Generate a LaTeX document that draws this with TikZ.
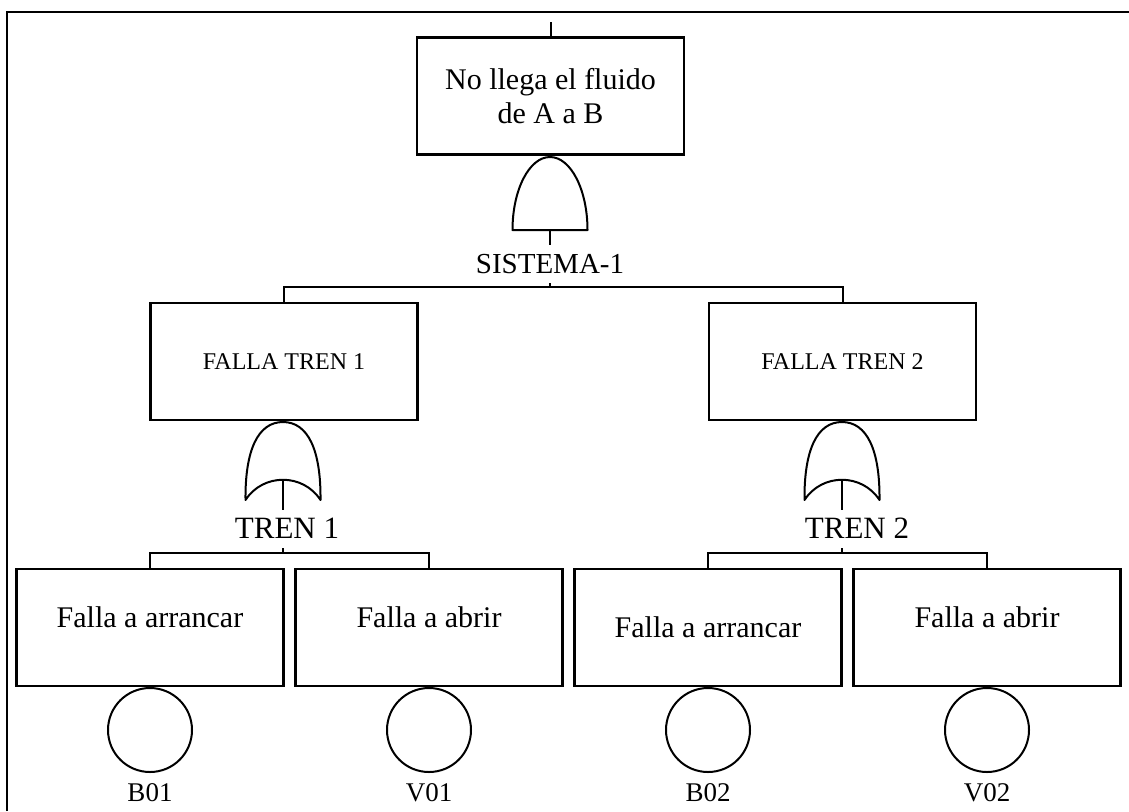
\documentclass[tikz,border=0pt]{standalone}
\usepackage{fontspec}
\setmainfont{Liberation Serif}
\usetikzlibrary{positioning}

\tikzset{
  event/.style={draw, line width=1.2pt, minimum width=133.5pt, minimum height=58.5pt,
                inner sep=0pt, align=center, font=\fontsize{15}{17}\selectfont},
  capsbox/.style={font=\fontsize{12}{14}\selectfont},
  uptext/.style={text height=7pt, text depth=7.5pt},
  basic/.style={draw, circle, line width=1pt, minimum size=42pt, inner sep=0pt},
  gatelabel/.style={inner sep=2pt, text height=12pt, text depth=3pt,
                    font=\fontsize{14.5}{17}\selectfont},
  idlabel/.style={inner sep=2pt, font=\fontsize{13.5}{16}\selectfont},
  gate/.style={line width=1pt, line join=round},
  link/.style={line width=1pt},
  frameline/.style={line width=1.3pt}
}

\begin{document}
\begin{tikzpicture}[x=0.5pt,y=-0.5pt,node distance=139.5pt]
    \useasboundingbox (0,0) rectangle (1129,811);
    \draw[frameline] (7,811) -- (7,12) -- (1129,12);

    \node[event]            (e0)  at (550.5,96)   {No llega el fluido\\de A a B};
    \node[event, capsbox]   (e1)  at (284,361.5)  {FALLA TREN 1};
    \node[event, capsbox]   (e2)  at (842.5,361.5) {FALLA TREN 2};
    \node[event, uptext]    (e11) at (150,627.5)  {Falla a arrancar};
    \node[event, uptext]    (e12) [right of=e11]  {Falla a abrir};
    \node[event]            (e21) [right of=e12]  {Falla a arrancar};
    \node[event, uptext]    (e22) [right of=e21]  {Falla a abrir};

    % basic events
    \node[basic] (b01) [below of=e11, node distance=51.25pt] {};
    \node[basic] (v01) [below of=e12, node distance=51.25pt] {};
    \node[basic] (b02) [below of=e21, node distance=51.25pt] {};
    \node[basic] (v02) [below of=e22, node distance=51.25pt] {};
    \node[idlabel] (lb01) [below=3pt of b01] {B01};
    \node[idlabel] (lv01) [below=3pt of v01] {V01};
    \node[idlabel] (lb02) [below=3pt of b02] {B02};
    \node[idlabel] (lv02) [below=3pt of v02] {V02};

    % AND gate
    \coordinate (and0) at (550,230);
    \draw[gate] (and0) ++(-37.5,0) arc[start angle=180, end angle=360, x radius=37.5, y radius=73] -- cycle;

    % OR gates
    \foreach \gx/\gn in {283/or1, 842/or2} {
      \draw[gate] (\gx-37.5,500) .. controls (\gx-38,450) and (\gx-25,422) .. (\gx,422)
        .. controls (\gx+25,422) and (\gx+38,450) .. (\gx+37.5,500)
        .. controls (\gx+20,473) and (\gx-20,473) .. cycle;
      \coordinate (\gn) at (\gx,480);
    }

    \node[gatelabel]                                      (sis) at (550,264) {SISTEMA-1};
    \node[gatelabel, font=\fontsize{15.5}{18}\selectfont] (t1)  at (287,529) {TREN 1};
    \node[gatelabel, font=\fontsize{15.5}{18}\selectfont] (t2)  at (857,529) {TREN 2};

    \coordinate (top)  at (550.5,22);
    \coordinate (bar0) at (550,287);
    \coordinate (bar1) at (283,553);
    \coordinate (bar2) at (842,553);

    \draw[link] (top) -- (e0);
    \draw[link] (and0) -- (sis);
    \draw[link] (sis) -- (bar0);
    \draw[link] (e1) |- (bar0) -| (e2);

    \draw[link] (or1) -- (or1 |- t1.north);
    \draw[link] (t1.south -| or1) -- (bar1);
    \draw[link] (e11) |- (bar1) -| (e12);
    \draw[link] (or2) -- (or2 |- t2.north);
    \draw[link] (t2.south -| or2) -- (bar2);
    \draw[link] (e21) |- (bar2) -| (e22);

    \foreach \bn/\en in {b01/e11, v01/e12, b02/e21, v02/e22}
      \draw[link] (\bn) -- (\bn |- \en.south);
\end{tikzpicture}
\end{document}
